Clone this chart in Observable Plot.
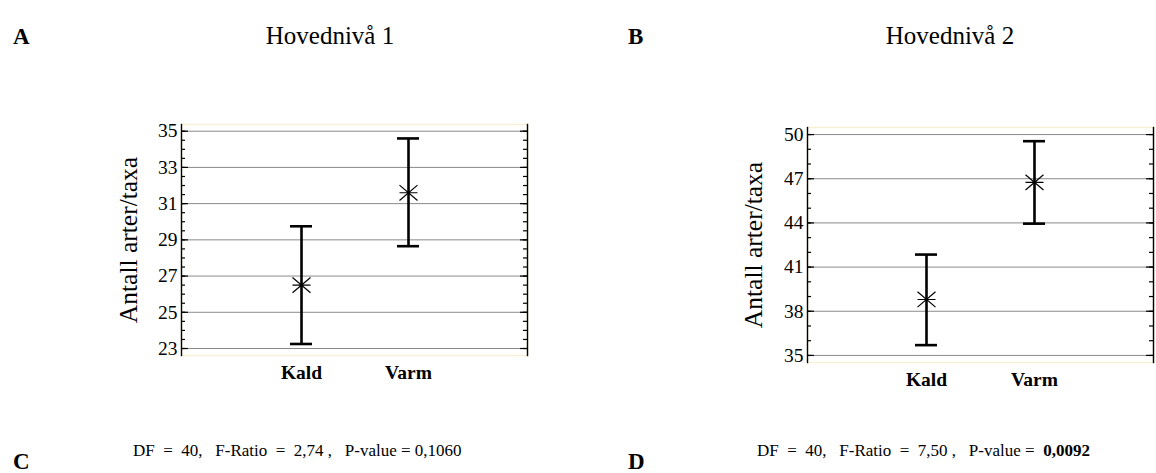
<!DOCTYPE html>
<html>
<head>
<meta charset="utf-8">
<script src="https://cdn.jsdelivr.net/npm/d3@7"></script>
<script src="https://cdn.jsdelivr.net/npm/@observablehq/plot@0.6"></script>
<style>
  html, body { margin: 0; padding: 0; background: #fff; }
  #root { position: relative; width: 1156px; height: 473px; overflow: hidden; background: #fff; font-family: "Liberation Serif", "Times New Roman", serif; }
  .panel { position: absolute; }
  #overlay { position: absolute; left: 0; top: 0; }
  svg, svg text, svg g { font-family: "Liberation Serif", "Times New Roman", serif !important; }
</style>
</head>
<body>
<div id="root"></div>
<script>
// ---- data ----
const groups = ["Kald", "Varm"];
const meanA = [26.5, 31.6];
const lowA = [23.25, 28.65];
const highA = [29.75, 34.6];
const meanB = [38.8, 46.75];
const lowB = [35.7, 43.95];
const highB = [41.85, 49.55];
const yTicksA = [23, 25, 27, 29, 31, 33, 35];
const yTicksB = [35, 38, 41, 44, 47, 50];
const minorStepA = 0.5;
const minorStepB = 1;
const yLabel = "Antall arter/taxa";
const titles = ["Hovednivå 1", "Hovednivå 2"];
const letters = ["A", "B", "C", "D"];
const statsC = "DF  =  40,   F-Ratio  =  2,74 ,   P-value = 0,1060";
const statsDPre = "DF  =  40,   F-Ratio  =  7,50 ,   P-value =  ";
const statsDBold = "0,0092";

const SERIF = '"Liberation Serif", "Times New Roman", serif';
const rows = (means, lows, highs) => groups.map((g, i) => ({g, mean: means[i], lo: lows[i], hi: highs[i]}));

const asterisk = {
  draw(ctx, size) {
    const r = Math.sqrt(size / Math.PI);
    const v = r * 0.85;
    ctx.moveTo(-r, -v); ctx.lineTo(r, v);
    ctx.moveTo(-r, v); ctx.lineTo(r, -v);
    ctx.moveTo(-r, 0); ctx.lineTo(r, 0);
  }
};

function panel({data, domain, ticks, minorStep, width, height, margins, padInner, padOuter, xPad}) {
  const frameW = width - margins.left - margins.right;
  const minor = d3.range(ticks[0], ticks[ticks.length - 1] + 1e-9, minorStep);
  return Plot.plot({
    width, height,
    marginLeft: margins.left, marginRight: margins.right,
    marginTop: margins.top, marginBottom: margins.bottom,
    style: {fontFamily: SERIF, background: "transparent", color: "black"},
    x: {type: "band", domain: groups, paddingInner: padInner, paddingOuter: padOuter, label: null},
    y: {domain, label: null},
    marks: [
      Plot.frame({stroke: "#f6f1d6", strokeWidth: 1.5}),
      Plot.gridY(ticks, {stroke: "#8a8a8a", strokeOpacity: 1, strokeWidth: 1}),
      Plot.tickY(minor, {y: d => d, insetRight: frameW - 4, stroke: "black", strokeWidth: 1.2}),
      Plot.tickY(ticks, {y: d => d, insetRight: frameW - 7, stroke: "black", strokeWidth: 1.2}),
      Plot.tickY(minor, {y: d => d, insetLeft: frameW - 4, stroke: "black", strokeWidth: 1.2}),
      Plot.tickY(ticks, {y: d => d, insetLeft: frameW - 7, stroke: "black", strokeWidth: 1.2}),
      Plot.frame({anchor: "left", stroke: "black", strokeWidth: 1.4}),
      Plot.frame({anchor: "right", stroke: "black", strokeWidth: 1.4}),
      Plot.axisY(ticks, {tickSize: 0, tickPadding: 4, fontSize: 19.5, fontFamily: SERIF, tickFormat: d => String(d), label: null}),
      Plot.axisX({tickSize: 0, tickPadding: xPad, fontSize: 19.5, fontFamily: SERIF, fontWeight: "bold", label: null}),
      Plot.ruleX(data, {x: "g", y1: "lo", y2: "hi", stroke: "black", strokeWidth: 2.6}),
      Plot.tickY(data, {x: "g", y: "hi", stroke: "black", strokeWidth: 2.6}),
      Plot.tickY(data, {x: "g", y: "lo", stroke: "black", strokeWidth: 2.6}),
      Plot.dot(data, {x: "g", y: "mean", symbol: asterisk, r: 9, stroke: "black", fill: "none", strokeWidth: 1.2})
    ]
  });
}

const root = document.getElementById("root");

const pA = panel({
  data: rows(meanA, lowA, highA), domain: [22.614, 35.37], ticks: yTicksA, minorStep: minorStepA,
  width: 560, height: 300, margins: {left: 181, right: 33, top: 24, bottom: 45},
  padInner: 0.796, padOuter: 1.0, xPad: 10
});
const dA = document.createElement("div");
dA.className = "panel"; dA.style.left = "0px"; dA.style.top = "100px";
dA.appendChild(pA); root.appendChild(dA);

const pB = panel({
  data: rows(meanB, lowB, highB), domain: [34.52, 50.48], ticks: yTicksB, minorStep: minorStepB,
  width: 526, height: 300, margins: {left: 177, right: 3, top: 27, bottom: 38},
  padInner: 0.8, padOuter: 0.99, xPad: 10
});
const dB = document.createElement("div");
dB.className = "panel"; dB.style.left = "630px"; dB.style.top = "100px";
dB.appendChild(pB); root.appendChild(dB);

// ---- text overlay ----
const svg = d3.select(root).append("svg").attr("id", "overlay").attr("width", 1156).attr("height", 473);
const txt = (x, y, s, size, opts = {}) => svg.append("text")
  .attr("x", x).attr("y", y).attr("font-size", size)
  .attr("font-family", SERIF)
  .attr("font-weight", opts.bold ? "bold" : "normal")
  .attr("text-anchor", opts.anchor || "start")
  .style("white-space", "pre")
  .attr("transform", opts.rotate ? `rotate(-90,${x},${y})` : null)
  .attr("dominant-baseline", opts.middle ? "central" : null)
  .text(s);

txt(13, 44, letters[0], 23, {bold: true});
txt(330, 44, titles[0], 25, {anchor: "middle"});
txt(628, 44, letters[1], 23, {bold: true});
txt(950, 44, titles[1], 25, {anchor: "middle"});
txt(13, 469, letters[2], 23, {bold: true});
txt(628, 469, letters[3], 23, {bold: true});
txt(133, 456, statsC, 17);
const tD = txt(757, 456, statsDPre, 17);
tD.append("tspan").attr("font-weight", "bold").text(statsDBold);
txt(128, 240, yLabel, 25.5, {anchor: "middle", rotate: true, middle: true});
txt(753, 245, yLabel, 25.5, {anchor: "middle", rotate: true, middle: true});
</script>
</body>
</html>
